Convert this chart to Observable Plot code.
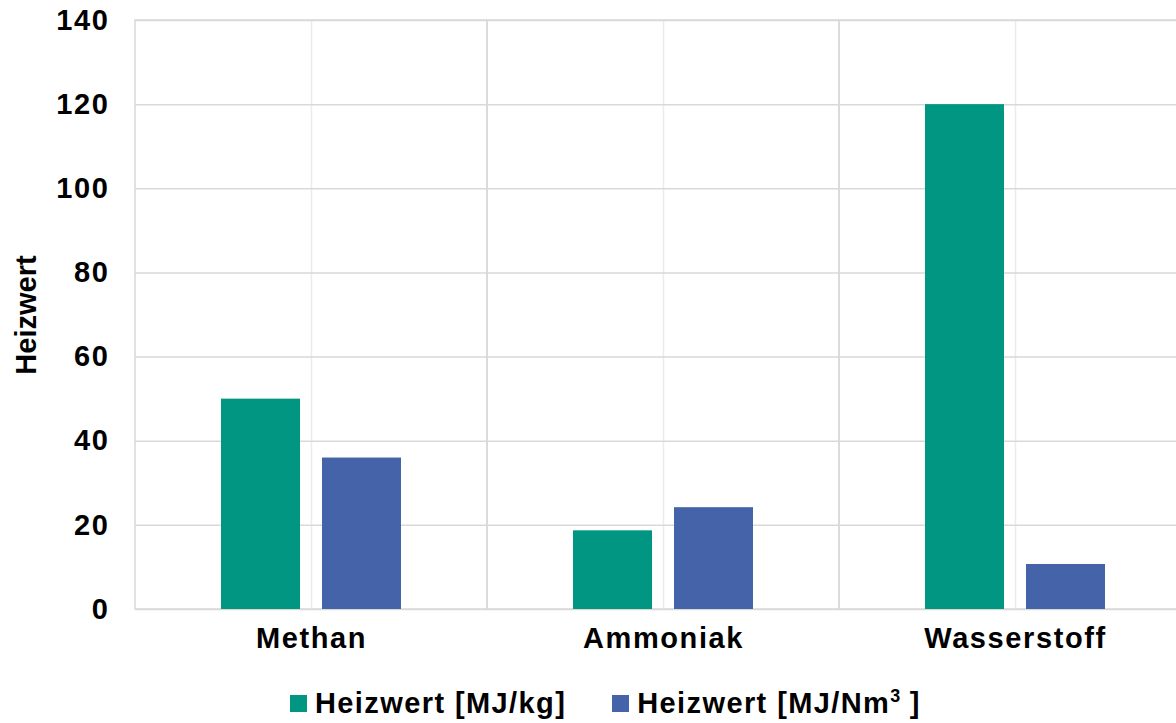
<!DOCTYPE html>
<html lang="de">
<head>
<meta charset="utf-8">
<script src="https://cdn.jsdelivr.net/npm/d3@7"></script>
<script src="https://cdn.jsdelivr.net/npm/@observablehq/plot@0.6"></script>
<style>
  html, body { margin: 0; padding: 0; background: #fff; }
  #wrap { position: relative; width: 1176px; height: 723px; overflow: hidden; font-family: Arial, "Liberation Sans", sans-serif; }
  #chart svg { display: block; overflow: hidden; }
  #chart g[aria-label="x-axis tick label"] text,
  #chart g[aria-label="y-axis tick label"] text { letter-spacing: 1.6px; }
  #legend { position: absolute; left: 290px; top: 687px; display: flex; align-items: center;
            font-size: 29px; font-weight: bold; color: #000; letter-spacing: 1.4px; white-space: nowrap; }
  #legend .item { display: flex; align-items: center; }
  #legend .item + .item { margin-left: 46px; }
  #legend .sw { width: 17px; height: 17px; margin-right: 8px; }
  #legend sup { font-size: 0.62em; vertical-align: 0.62em; line-height: 0; letter-spacing: 0; }
</style>
</head>
<body>
<div id="wrap">
  <div id="chart"></div>
  <div id="legend"></div>
</div>
<script>
// Fuels and their lower heating values
const categories = ["Methan", "Ammoniak", "Wasserstoff"];
const seriesNames = ["Heizwert [MJ/kg]", "Heizwert [MJ/Nm3]"];
const perMass = [50, 18.7, 120];     // MJ/kg
const perVolume = [36, 24.2, 10.7];  // MJ/Nm³
const yTicks = [0, 20, 40, 60, 80, 100, 120, 140];
const colors = ["#009681", "#4563a9"];

const rows = categories.flatMap((c, i) => [
  {fuel: c, series: seriesNames[0], value: perMass[i]},
  {fuel: c, series: seriesNames[1], value: perVolume[i]}
]);

const chart = Plot.plot({
  width: 1176,
  height: 660,
  marginTop: 20,
  marginBottom: 51,
  marginLeft: 135,
  marginRight: 0,
  style: {fontFamily: "Arial, 'Liberation Sans', sans-serif", fontSize: "29px", fontWeight: "bold", color: "#000"},
  x: {type: "band", domain: categories, range: [135, 1191], padding: 0},
  y: {domain: [0, 140]},
  color: {domain: seriesNames, range: colors},
  marks: [
    // category cell outlines (boundaries between fuels)
    Plot.barY(categories, {x: d => d, y1: 0, y2: 140, fill: "none", stroke: "#d9d9d9", strokeWidth: 1.5}),
    // light vertical grid at category centres
    Plot.gridX({stroke: "#ebebeb", strokeOpacity: 1, strokeWidth: 1.5}),
    Plot.gridY(yTicks, {stroke: "#d9d9d9", strokeOpacity: 1, strokeWidth: 1.5}),
    Plot.barY(rows.filter(d => d.series === seriesNames[0]), {
      x: "fuel", y: "value", fill: "series", insetLeft: 86, insetRight: 187
    }),
    Plot.barY(rows.filter(d => d.series === seriesNames[1]), {
      x: "fuel", y: "value", fill: "series", insetLeft: 187, insetRight: 86
    }),
    Plot.axisY(yTicks, {tickSize: 0, tickPadding: 26, label: "Heizwert", labelAnchor: "center",
      labelArrow: "none", labelOffset: 120, fontSize: 29, fontWeight: "bold"}),
    Plot.axisX({tickSize: 0, tickPadding: 18, label: null, fontSize: 29, fontWeight: "bold"})
  ]
});
document.getElementById("chart").appendChild(chart);

// Legend below the plot
const legend = document.getElementById("legend");
const labelsHtml = ["Heizwert [MJ/kg]", "Heizwert [MJ/Nm<sup>3</sup> ]"];
seriesNames.forEach((s, i) => {
  const item = document.createElement("div");
  item.className = "item";
  const sw = document.createElement("div");
  sw.className = "sw";
  sw.style.background = chart.scale("color").apply(s);
  const txt = document.createElement("span");
  txt.innerHTML = labelsHtml[i];
  item.appendChild(sw);
  item.appendChild(txt);
  legend.appendChild(item);
});
</script>
</body>
</html>
